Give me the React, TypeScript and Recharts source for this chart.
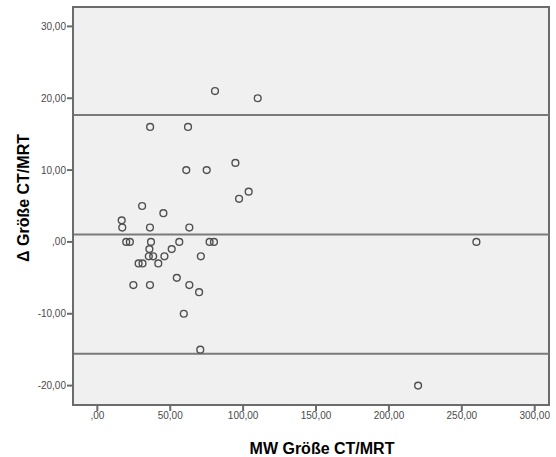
import { ScatterChart, Scatter, XAxis, YAxis, ReferenceArea, ReferenceLine, Label } from "recharts"

// mean of CT and MRT size (x) and difference CT - MRT (y)
const meanValues = [
  80.7, 110, 36.2, 62.2, 94.7, 61, 75, 103.8, 97.2, 30.7, 45.3, 16.7, 17.1, 36.1, 63.1,
  19.8, 22.3, 36.8, 56.2, 77, 80, 260,
  35.7, 51,
  35.3, 38.3, 46, 71,
  28.3, 31, 41.8,
  54.5,
  24.7, 36.1, 63.1,
  69.8,
  59.3, 70.6, 220,
]
const diffValues = [
  21, 20, 16, 16, 11, 10, 10, 7, 6, 5, 4, 3, 2, 2, 2,
  0, 0, 0, 0, 0, 0, 0,
  -1, -1,
  -2, -2, -2, -2,
  -3, -3, -3,
  -5,
  -6, -6, -6,
  -7,
  -10, -15, -20,
]

// upper limit of agreement, mean difference, lower limit
const limitLines = [17.65, 1.03, -15.55]

const xTicks = [0, 50, 100, 150, 200, 250, 300]
const yTicks = [-20, -10, 0, 10, 20, 30]
const xDomain = [-16.7, 309.8]
const yDomain = [-22.7, 32.7]

const data = meanValues.map((x, i) => ({ x, y: diffValues[i] }))

const fmt = (v: number) => (v === 0 ? ",00" : v.toFixed(2).replace(".", ","))

const tickStyle = { fill: "#4a4a4a", fontSize: 10, fontFamily: "Liberation Sans, Arial, sans-serif" }
const titleStyle = { fill: "#000", fontSize: 16, fontWeight: "bold" as const, fontFamily: "Liberation Sans, Arial, sans-serif" }

const OpenCircle = (props: any) => (
  <circle cx={props.cx} cy={props.cy} r={3.4} fill="none" stroke="#505050" strokeWidth={1.4} />
)

export default function App() {
  return (
    <div style={{ position: "absolute", left: 0, top: 0, background: "#fff" }}>
      <ScatterChart width={556} height={457} margin={{ top: 7, right: 7, bottom: 27, left: 13 }}>
        <ReferenceArea
          x1={xDomain[0]}
          x2={xDomain[1]}
          y1={yDomain[0]}
          y2={yDomain[1]}
          fill="#f0f0f0"
          fillOpacity={1}
          stroke="#6b6b6b"
          strokeWidth={2}
        />
        <XAxis
          type="number"
          dataKey="x"
          domain={xDomain}
          allowDataOverflow
          ticks={xTicks}
          tickFormatter={fmt}
          height={25}
          tickSize={6}
          tickMargin={1}
          tick={tickStyle}
          axisLine={{ stroke: "#6b6b6b", strokeWidth: 2 }}
          tickLine={{ stroke: "#6b6b6b", strokeWidth: 2 }}
        >
          <Label
            content={() => (
              <text x={322} y={448} textAnchor="middle" dominantBaseline="central" {...titleStyle}>
                MW Größe CT/MRT
              </text>
            )}
          />
        </XAxis>
        <YAxis
          type="number"
          dataKey="y"
          domain={yDomain}
          allowDataOverflow
          ticks={yTicks}
          tickFormatter={fmt}
          width={60}
          tickSize={6}
          tickMargin={1}
          tick={tickStyle}
          axisLine={{ stroke: "#6b6b6b", strokeWidth: 2 }}
          tickLine={{ stroke: "#6b6b6b", strokeWidth: 2 }}
        >
          <Label
            content={() => (
              <text
                x={23}
                y={198}
                transform="rotate(-90 23 198)"
                textAnchor="middle"
                dominantBaseline="central"
                {...titleStyle}
              >
                Δ Größe CT/MRT
              </text>
            )}
          />
        </YAxis>
        {limitLines.map((v) => (
          <ReferenceLine key={v} y={v} stroke="#7a7a7a" strokeWidth={2} />
        ))}
        <Scatter data={data} shape={OpenCircle} isAnimationActive={false} />
      </ScatterChart>
    </div>
  )
}
